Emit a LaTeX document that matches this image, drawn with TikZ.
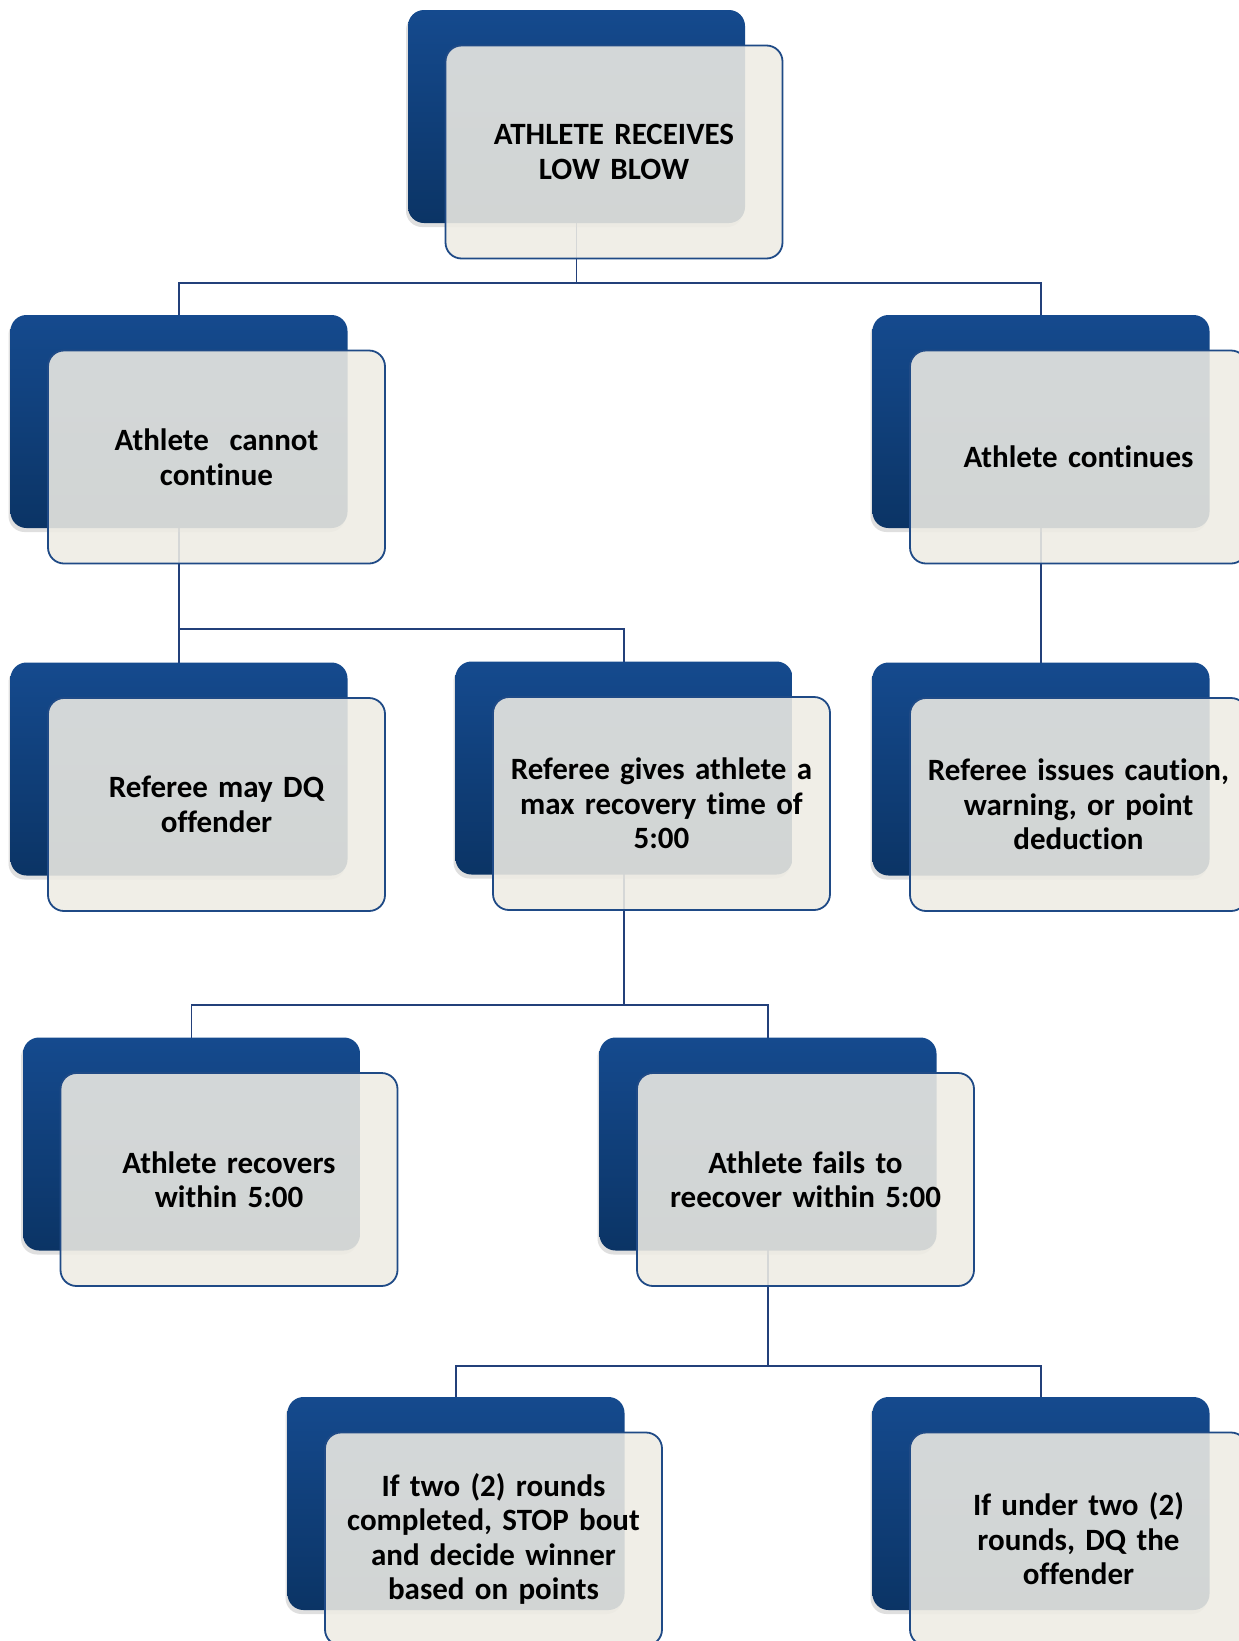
\documentclass[tikz,border=0pt]{standalone}
\usepackage{fontspec}
\setmainfont{Carlito}[Ligatures=CommonOff]
\usetikzlibrary{shadows}
\definecolor{bluetop}{HTML}{154A8E}
\definecolor{bluebot}{HTML}{0B3465}
\definecolor{cream}{HTML}{EEECE4}
\definecolor{edgeblue}{HTML}{1F4A86}
\definecolor{linkblue}{HTML}{23407A}
\pgfdeclarelayer{bg}
\pgfsetlayers{bg,main}
\tikzset{
 backbox/.style={rectangle, rounded corners=16pt, minimum width=337pt, minimum height=213pt,
   top color=bluetop, bottom color=bluebot, draw=none,
   drop shadow={shadow xshift=-2pt, shadow yshift=-4pt, opacity=0.25}},
 frontbox/.style={rectangle, rounded corners=16pt, minimum width=337pt, minimum height=213pt,
   fill=cream, fill opacity=0.88, text opacity=1, draw=edgeblue, draw opacity=1, line width=1.8pt,
   align=center, text width=318pt, font=\fontsize{31}{34.5}\selectfont\bfseries},
 link/.style={draw=linkblue, line width=1.8pt},
}
\begin{document}
\begin{tikzpicture}[x=1pt,y=-1pt]
\path[use as bounding box] (0,0) rectangle (1239,1641);
\clip (0,0) rectangle (1239,1641);

% back boxes
\node[backbox] (top) at (576.5,116.5) {};
\node[backbox] (A) at (179,421.5) {};
\node[backbox] (B) at (1041,421.5) {};
\node[backbox] (C) at (179,769) {};
\node[backbox] (D) at (624,768) {};
\node[backbox] (E) at (1041,769) {};
\node[backbox] (F) at (191.5,1144) {};
\node[backbox] (G) at (768,1144) {};
\node[backbox] (H) at (456,1503.5) {};
\node[backbox] (I) at (1041,1503.5) {};

% front boxes
\node[frontbox] (topf) at ([shift={(37.5,35.5)}]top.center) {ATHLETE RECEIVES\\LOW BLOW};
\node[frontbox] (Af) at ([shift={(37.5,35.5)}]A.center) {Athlete\ \ cannot\\continue};
\node[frontbox] (Bf) at ([shift={(37.5,35.5)}]B.center) {Athlete continues};
\node[frontbox] (Cf) at ([shift={(37.5,35.5)}]C.center) {Referee may DQ\\offender};
\node[frontbox] (Df) at ([shift={(37.5,35.5)}]D.center) {Referee gives athlete a\\max recovery time of\\5:00};
\node[frontbox] (Ef) at ([shift={(37.5,35.5)}]E.center) {Referee issues caution,\\warning, or point\\deduction};
\node[frontbox] (Ff) at ([shift={(37.5,35.5)}]F.center) {Athlete recovers\\within 5:00};
\node[frontbox] (Gf) at ([shift={(37.5,35.5)}]G.center) {Athlete fails to\\reecover within 5:00};
\node[frontbox] (Hf) at ([shift={(37.5,35.5)}]H.center) {If two (2) rounds\\completed, STOP bout\\and decide winner\\based on points};
\node[frontbox] (If) at ([shift={(37.5,35.5)}]I.center) {If under two (2)\\rounds, DQ the\\offender};

\coordinate (h1) at (0,283);
\coordinate (h2) at (0,629);
\coordinate (h3) at (0,1005);
\coordinate (h4) at (0,1366);

\begin{pgfonlayer}{bg}
\fill[white] (0,0) rectangle (1239,1641);
\draw[link] (top.center) -- (top.center |- h1) -| (A.center);
\draw[link] (top.center |- h1) -| (B.center);
\draw[link] (A.center) -- (C.center);
\draw[link] (A.center |- h2) -| (D.center);
\draw[link] (B.center) -- (E.center);
\draw[link] (D.center) -- (D.center |- h3) -| (F.center);
\draw[link] (D.center |- h3) -| (G.center);
\draw[link] (G.center) -- (G.center |- h4) -| (H.center);
\draw[link] (G.center |- h4) -| (I.center);
\end{pgfonlayer}
\end{tikzpicture}
\end{document}
